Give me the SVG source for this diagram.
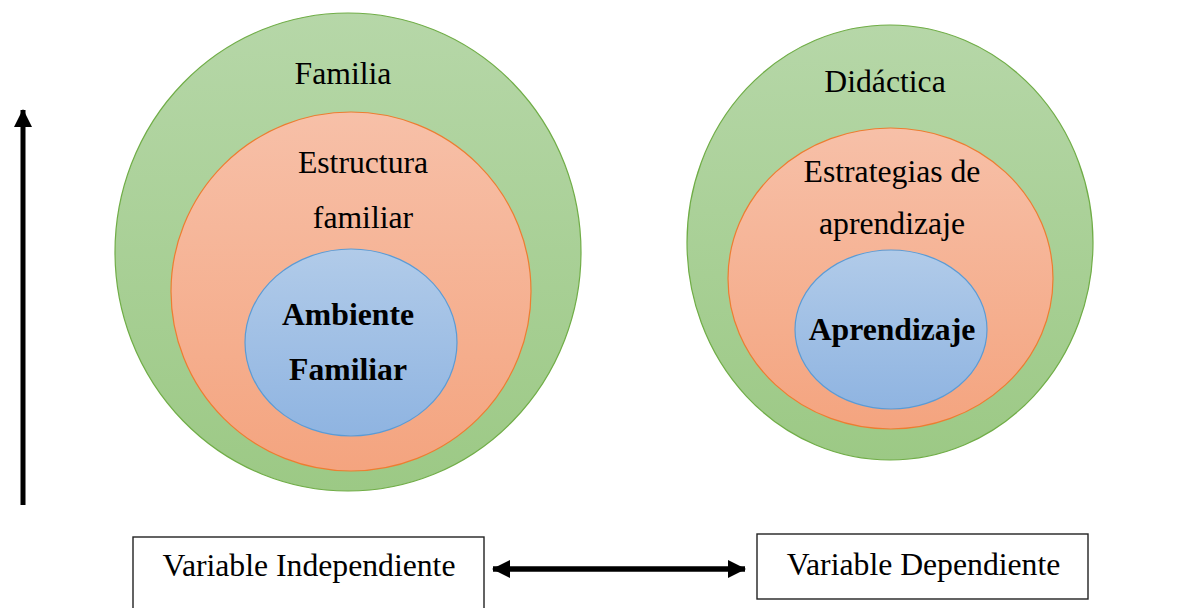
<svg xmlns="http://www.w3.org/2000/svg" width="1184" height="608" viewBox="0 0 1184 608">
<defs>
<linearGradient id="gGreen" x1="0" y1="0" x2="0" y2="1"><stop offset="0" stop-color="#b6d7a8"/><stop offset="1" stop-color="#9cc985"/></linearGradient>
<linearGradient id="gOrange" x1="0" y1="0" x2="0" y2="1"><stop offset="0" stop-color="#f7c0a8"/><stop offset="1" stop-color="#f4a47f"/></linearGradient>
<linearGradient id="gBlue" x1="0" y1="0" x2="0" y2="1"><stop offset="0" stop-color="#b1cbe9"/><stop offset="1" stop-color="#8fb4e1"/></linearGradient>
<marker id="ah" markerUnits="userSpaceOnUse" markerWidth="18" markerHeight="18" viewBox="0 0 18 18" refX="17" refY="9" orient="auto-start-reverse"><path d="M0,0 L18,9 L0,18 Z" fill="#000"/></marker>
</defs>
<style>
.green{fill:url(#gGreen);stroke:#70ad47;stroke-width:1.2}
.orange{fill:url(#gOrange);stroke:#ed7d31;stroke-width:1.2}
.blue{fill:url(#gBlue);stroke:#5b9bd5;stroke-width:1.2}
.t{font-family:"Liberation Serif","Times New Roman",serif;font-size:31.7px;fill:#000;text-anchor:middle}
.b{font-weight:bold}
.box{fill:#fff;stroke:#222;stroke-width:1.4}
.arrow{stroke:#000;fill:none}
</style>
<rect width="1184" height="608" fill="#fff"/>
<g id="familia">
<ellipse class="green" cx="348" cy="252" rx="233" ry="239"/>
<text class="t" x="343" y="84">Familia</text>
</g>
<g id="estructura">
<ellipse class="orange" cx="351" cy="291.5" rx="180" ry="179.5"/>
<text class="t" x="363" y="173">Estructura</text>
<text class="t" x="363" y="228">familiar</text>
</g>
<g id="ambiente">
<ellipse class="blue" cx="351" cy="342.5" rx="106" ry="93.5"/>
<text class="t b" x="348" y="325">Ambiente</text>
<text class="t b" x="348" y="380">Familiar</text>
</g>
<g id="didactica">
<ellipse class="green" cx="890" cy="242.5" rx="203" ry="217.5"/>
<text class="t" x="885" y="92">Didáctica</text>
</g>
<g id="estrategias">
<ellipse class="orange" cx="890.5" cy="278.5" rx="162.5" ry="150.5"/>
<text class="t" x="892" y="182">Estrategias de</text>
<text class="t" x="892" y="234">aprendizaje</text>
</g>
<g id="aprendizaje">
<ellipse class="blue" cx="891" cy="329.5" rx="96" ry="79.5"/>
<text class="t b" x="892" y="340">Aprendizaje</text>
</g>
<g id="var-indep">
<rect class="box" x="133" y="537" width="351" height="80"/>
<text class="t" x="309" y="576">Variable Independiente</text>
</g>
<g id="var-dep">
<rect class="box" x="757" y="534" width="331" height="65"/>
<text class="t" x="923.5" y="575">Variable Dependiente</text>
</g>
<g id="connectors">
<line class="arrow" x1="23" y1="505" x2="23" y2="110" stroke-width="5" marker-end="url(#ah)"/>
<line class="arrow" x1="493" y1="569" x2="745" y2="569" stroke-width="5.5" marker-start="url(#ah)" marker-end="url(#ah)"/>
</g>
</svg>
